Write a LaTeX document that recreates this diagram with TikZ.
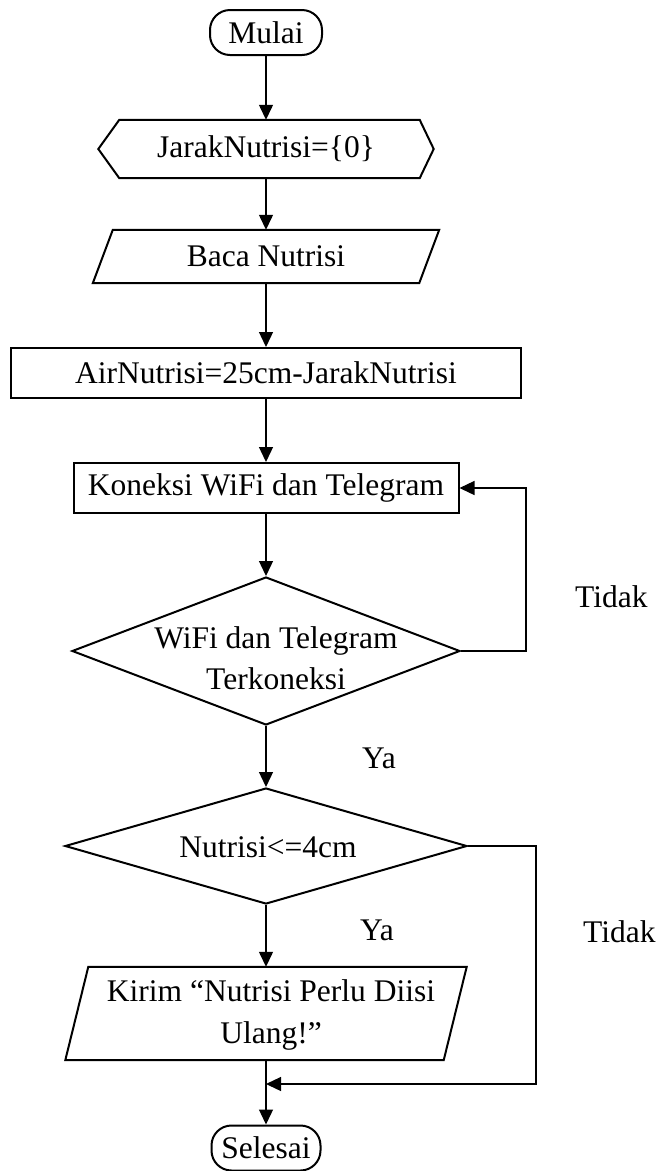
\documentclass[tikz,border=0pt]{standalone}
\usepackage{fontspec}
\setmainfont{Liberation Serif}
\usetikzlibrary{shapes.geometric,arrows.meta}
\begin{document}
\begin{tikzpicture}[x=1pt,y=-1pt,
  every node/.style={font=\fontsize{31.5}{41.5}\selectfont, inner sep=0pt},
  outline/.style={draw=black, line width=2pt, line join=miter},
  term/.style={outline, rectangle, rounded corners=20pt, minimum width=112pt, minimum height=45pt},
  process/.style={outline, rectangle, minimum height=50pt},
  decision/.style={outline, diamond},
  slot/.style={rectangle, draw=none},
  flow/.style={line width=1.3pt, -{Triangle[length=15pt,width=14pt]}},
  tag/.style={anchor=base west}]

% page area
\fill[white] (0,0) rectangle (662,1171);
\useasboundingbox (0,0) rectangle (662,1171);

% start
\node[term] (mulai) at (266,32.5) {Mulai};

% preparation (hexagon)
\node[slot, minimum width=335pt, minimum height=58pt] (jarak) at (266,149) {JarakNutrisi=\{0\}};
\draw[outline] (jarak.west) -- ([xshift=21pt]jarak.north west) -- ([xshift=-14pt]jarak.north east)
  -- (jarak.east) -- ([xshift=-14pt]jarak.south east) -- ([xshift=21pt]jarak.south west) -- cycle;

% input (parallelogram)
\node[slot, minimum width=326pt, minimum height=53pt] (baca) at (266,256.5) {Baca Nutrisi};
\draw[outline] ([xshift=10pt]baca.north west) -- ([xshift=10pt]baca.north east)
  -- ([xshift=-10pt]baca.south east) -- ([xshift=-10pt]baca.south west) -- cycle;

% processes
\node[process, minimum width=510pt] (air) at (266,373) {AirNutrisi=25cm-JarakNutrisi};
\node[process, minimum width=385pt] (kon) at (266,488) {Koneksi WiFi dan Telegram};

% decisions
\node[decision, minimum width=388pt, minimum height=148pt] (d1) at (266,651) {};
\node[align=center] (d1txt) at (276,658) {WiFi dan Telegram\\Terkoneksi};
\node[decision, minimum width=402pt, minimum height=116pt] (d2) at (266,846) {};
\node (d2txt) at (268,847) {Nutrisi<=4cm};

% output (parallelogram)
\node[slot, minimum width=378pt, minimum height=93pt] (kirim) at (266,1013.5) {};
\draw[outline] ([xshift=11.5pt]kirim.north west) -- ([xshift=11.5pt]kirim.north east)
  -- ([xshift=-11.5pt]kirim.south east) -- ([xshift=-11.5pt]kirim.south west) -- cycle;
\node[align=center] (kirimtxt) at (271,1015) {Kirim “Nutrisi Perlu Diisi\\Ulang!”};

% end
\node[term, minimum width=109pt] (selesai) at (266,1148) {Selesai};

% main flow
\draw[flow] (mulai) -- (jarak);
\draw[flow] (jarak) -- (baca);
\draw[flow] (baca) -- (air);
\draw[flow] (air) -- (kon);
\draw[flow] (kon) -- (d1);
\draw[flow] (d1) -- (d2);
\draw[flow] (d2) -- (kirim);
\draw[flow] (kirim) -- (selesai);

% retry loop and skip branch
\draw[flow] (d1.east) -- ++(65,0) |- (kon.east);
\coordinate (join) at (266,1084);
\draw[flow] (d2.east) -- ++(68,0) |- (join);

% branch labels
\node[tag] (tidak1) at (575,607) {Tidak};
\node[tag] (ya1) at (362,768) {Ya};
\node[tag] (tidak2) at (583,942) {Tidak};
\node[tag] (ya2) at (360,940) {Ya};
\end{tikzpicture}
\end{document}
